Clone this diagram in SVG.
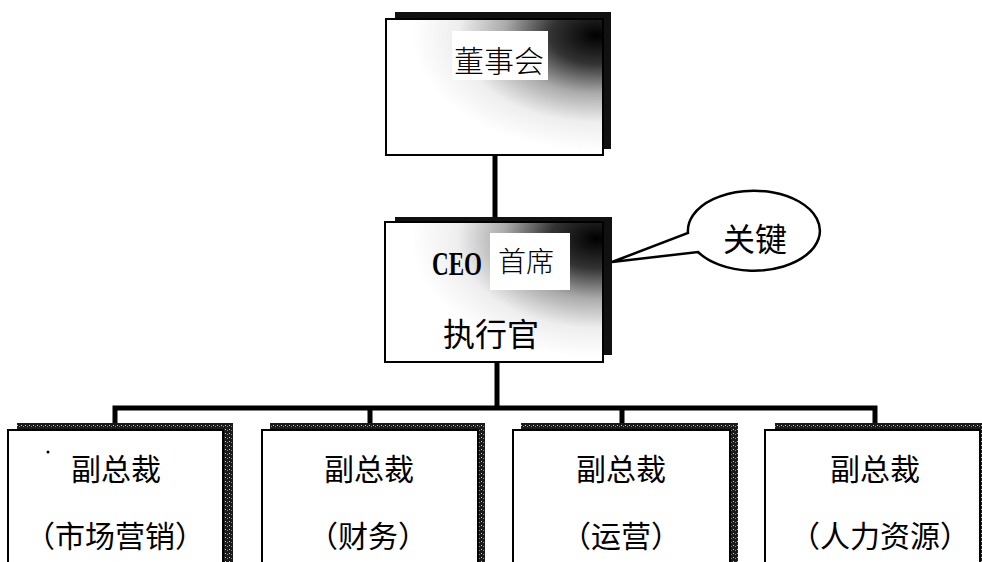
<svg xmlns="http://www.w3.org/2000/svg" width="982" height="562" viewBox="0 0 982 562">
<defs>
<radialGradient id="shade" cx="0.97" cy="0.12" r="0.85">
<stop offset="0" stop-color="#000"/>
<stop offset="0.25" stop-color="#333"/>
<stop offset="0.5" stop-color="#aaa"/>
<stop offset="0.75" stop-color="#eee"/>
<stop offset="1" stop-color="#fff"/>
</radialGradient>
<pattern id="dither" width="4" height="4" patternUnits="userSpaceOnUse">
<rect width="4" height="4" fill="#1a1a1a"/>
<rect x="1" y="1" width="1" height="1" fill="#ccc"/>
<rect x="3" y="2" width="1" height="1" fill="#888"/>
</pattern>
<style>
.box{fill:#fff;stroke:#000;stroke-width:2}
.shadow{fill:#111}
.dshadow{fill:url(#dither)}
.line{stroke:#000;stroke-width:5;fill:none}
.cjk{font-family:"Noto Sans CJK SC",sans-serif;font-weight:400;fill:#000}
.serif{font-family:"Noto Sans CJK SC",serif;font-weight:300;fill:#000}
</style>
</defs>
<g id="connectors">
<line class="line" x1="495" y1="155" x2="495" y2="222"/>
<line class="line" x1="497" y1="362" x2="497" y2="408"/>
<polyline class="line" points="115,425 115,408 875,408 875,425"/>
<line class="line" x1="370" y1="408" x2="370" y2="428"/>
<line class="line" x1="622" y1="408" x2="622" y2="428"/>
</g>
<g id="board">
<rect class="shadow" x="395" y="12" width="216" height="137"/>
<rect x="386" y="19" width="217" height="136" fill="url(#shade)" stroke="#000" stroke-width="2"/>
<rect x="452" y="31" width="96" height="49" fill="#fff"/>
<text class="serif" x="499" y="72" font-size="30" text-anchor="middle">董事会</text>
</g>
<g id="ceo">
<rect class="shadow" x="395" y="217" width="217" height="138"/>
<rect x="385" y="222" width="218" height="140" fill="url(#shade)" stroke="#000" stroke-width="2"/>
<rect x="490" y="233" width="80" height="57" fill="#fff"/>
<text transform="translate(432,275) scale(1,1.3)" font-family="Liberation Serif,serif" font-weight="bold" font-size="26" textLength="50" lengthAdjust="spacingAndGlyphs">CEO</text>
<text class="serif" x="526" y="272" font-size="28" text-anchor="middle">首席</text>
<text class="cjk" x="491" y="346" font-size="32" text-anchor="middle">执行官</text>
</g>
<g id="callout">
<path d="M688,233 A66,40 0 1 1 698,252 L612,262 Z" fill="#fff" stroke="#000" stroke-width="2.5" stroke-linejoin="miter"/>
<text class="cjk" x="755" y="251" font-size="32" text-anchor="middle">关键</text>
</g>
<g id="vp1">
<rect class="dshadow" x="17" y="423" width="216" height="145"/>
<rect class="box" x="8" y="430" width="215" height="140"/>
<circle cx="48" cy="452" r="1.5" fill="#000"/>
<text class="cjk" x="116" y="480" font-size="30" text-anchor="middle">副总裁</text>
<text class="cjk" x="115" y="547" font-size="30" text-anchor="middle">（市场营销）</text>
</g>
<g id="vp2">
<rect class="dshadow" x="270" y="423" width="215" height="145"/>
<rect class="box" x="262" y="430" width="216" height="140"/>
<text class="cjk" x="369" y="480" font-size="30" text-anchor="middle">副总裁</text>
<text class="cjk" x="368" y="547" font-size="30" text-anchor="middle">（财务）</text>
</g>
<g id="vp3">
<rect class="dshadow" x="521" y="423" width="217" height="145"/>
<rect class="box" x="513" y="430" width="217" height="140"/>
<text class="cjk" x="621" y="480" font-size="30" text-anchor="middle">副总裁</text>
<text class="cjk" x="621" y="547" font-size="30" text-anchor="middle">（运营）</text>
</g>
<g id="vp4">
<rect class="dshadow" x="775" y="423" width="215" height="145"/>
<rect class="box" x="765" y="430" width="215" height="140"/>
<text class="cjk" x="875" y="480" font-size="30" text-anchor="middle">副总裁</text>
<text class="cjk" x="880" y="547" font-size="30" text-anchor="middle">（人力资源）</text>
</g>
</svg>
